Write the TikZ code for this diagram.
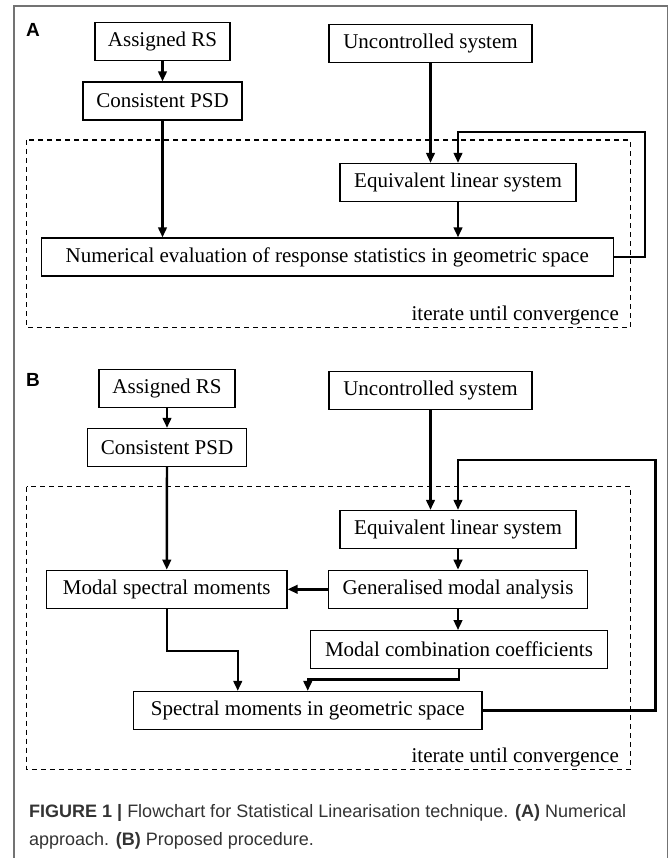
\documentclass[tikz,border=0pt]{standalone}
\usepackage{fontspec}
\setmainfont{Liberation Serif}
\newfontfamily\capfont{Liberation Sans}
\usetikzlibrary{positioning, arrows.meta, calc}

\tikzset{
  box/.style={draw, line width=1.2pt, minimum height=38pt, inner sep=0pt, font=\fontsize{21}{24}\selectfont},
  flow/.style={-{Triangle[length=10pt, width=8.5pt]}, line width=2.4pt},
  iterbox/.style={line width=1.2pt, dash pattern=on 5pt off 4pt},
  itertext/.style={anchor=base east, inner sep=0pt, font=\fontsize{21}{24}\selectfont},
  panel/.style={inner sep=0pt, font=\capfont\bfseries\fontsize{19}{19}\selectfont},
  captext/.style={anchor=base west, inner sep=0pt, text=black!80, font=\capfont\fontsize{18}{20}\selectfont}
}

\begin{document}
\begin{tikzpicture}[x=1pt, y=-1pt]
  \useasboundingbox (0,0) rectangle (669,858);

  % Frame
  \draw[black!55, line width=1.8pt] (14.3,862) -- (14.3,6.3) -- (667.5,6.3) -- (667.5,862);

  % Panel A
  \node[panel] (labA) at (33,30.3) {A};
  \node[box, minimum width=135pt] (rsA) at (162.5,41.7) {Assigned RS};
  \node[box, minimum width=159pt] (psdA) at (162.5,101) {Consistent PSD};
  \node[box, minimum width=203pt] (ucA) at (430.5,43.7) {Uncontrolled system};
  \node[box, minimum width=236pt] (elsA) at (458,182.5) {Equivalent linear system};
  \node[box, minimum width=572pt] (numA) at (327.25,257) {Numerical evaluation of response statistics in geometric space};
  \draw[iterbox] (26.5,140) rectangle (630.5,327.3);
  \node[itertext] (itA) at (619,320.7) {iterate until convergence};

  \draw[flow] (rsA) -- (psdA);
  \draw[flow] (psdA) -- (psdA |- numA.north);
  \draw[flow] (ucA) -- (ucA |- elsA.north);
  \draw[flow] (elsA) -- (elsA |- numA.north);
  \draw[flow] (numA.east) -- ++(31,0) |- ($(elsA.north)+(0,-31)$) -- (elsA.north);

  % Panel B
  \node[panel] (labB) at (33,380) {B};
  \node[box, minimum width=136pt] (rsB) at (167,388.3) {Assigned RS};
  \node[box, minimum width=159.5pt] (psdB) at (167,447.5) {Consistent PSD};
  \node[box, minimum width=203pt] (ucB) at (430.5,390.3) {Uncontrolled system};
  \node[box, minimum width=236pt] (elsB) at (458,529.5) {Equivalent linear system};
  \node[box, minimum width=240.5pt] (msm) at (166.75,589.3) {Modal spectral moments};
  \node[box, minimum width=259pt] (gma) at (458,589.3) {Generalised modal analysis};
  \node[box, minimum width=297pt] (mcc) at (459,649.7) {Modal combination coefficients};
  \node[box, minimum width=348.5pt] (smg) at (307.75,710.5) {Spectral moments in geometric space};
  \draw[iterbox] (26.5,486.7) rectangle (630.5,769.3);
  \node[itertext] (itB) at (619,762.7) {iterate until convergence};

  \draw[flow] (rsB) -- (psdB);
  \draw[flow] (psdB) -- (msm);
  \draw[flow] (ucB) -- (ucB |- elsB.north);
  \draw[flow] (elsB) -- (gma);
  \draw[flow] (gma) -- (msm);
  \draw[flow] (gma) -- (gma |- mcc.north);
  \draw[flow] (msm.south) -- ++(0,42) -| ($(smg.north)+(-70,0)$);
  \draw[flow] (mcc.south) -- ++(0,10.3) -| (smg.north);
  \draw[flow] (smg.east) -- ++(172.7,0) |- ($(elsB.north)+(0,-50)$) -- (elsB.north);

  % Caption
  \node[captext] (cap1) at (29,817.3) {\textbf{FIGURE 1 |} Flowchart for Statistical Linearisation technique. \textbf{(A)} Numerical};
  \node[captext] (cap2) at (29,845) {approach. \textbf{(B)} Proposed procedure.};
\end{tikzpicture}
\end{document}
